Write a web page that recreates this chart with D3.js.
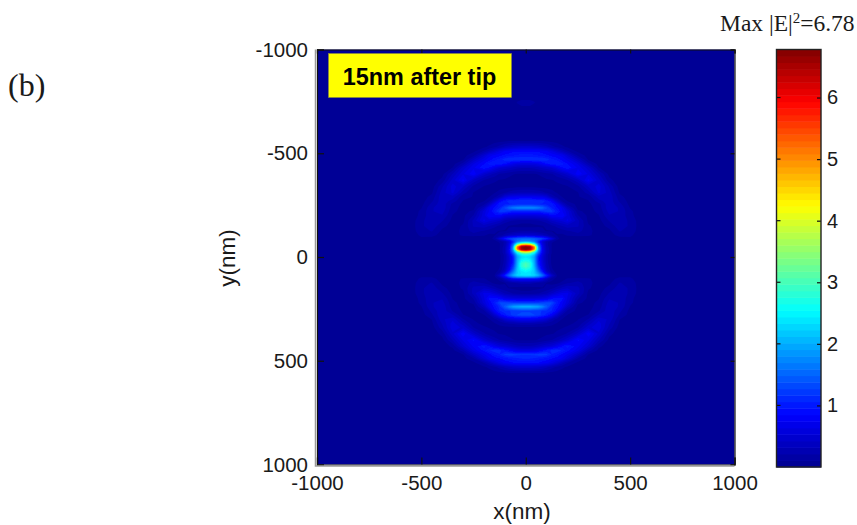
<!DOCTYPE html>
<html>
<head>
<meta charset="utf-8">
<script src="https://cdn.jsdelivr.net/npm/d3@7"></script>
<style>
  html, body { margin: 0; background: #fff; }
  svg { display: block; }
  text { font-family: "Liberation Sans", Arial, sans-serif; fill: #1a1a1a; }
  .serif { font-family: "Liberation Serif", "Times New Roman", serif; }
</style>
</head>
<body>
<script>
var xTicks = [ -1000, -500, 0, 500, 1000 ];
var yTicks = [ -1000, -500, 0, 500, 1000 ];
var barTicks = [ 1, 2, 3, 4, 5, 6 ];
var maxValue = 6.78;

// the map is mirrored about x=0, so only the x>=0 columns are kept
var xColumns = [ 0, 20, 40, 60, 80, 100, 125, 150, 175, 200, 250, 300, 350, 400, 450, 500, 550, 650, 1000 ];

var yRows = [
  -1000, -915, -830, -745, -660, -600, -560, -530, -510, -490, -470, -450, -430, -400, -370, -340,
  -310, -290, -270, -255, -237, -220, -200, -175, -150, -125, -105, -95, -88, -78, -72, -65, -58,
  -50, -43, -36, -28, -20, -10, 0, 15, 30, 45, 60, 70, 80, 88, 96, 105, 125, 150, 175, 200, 220,
  240, 260, 280, 300, 320, 340, 370, 400, 430, 450, 470, 490, 510, 530, 560, 600, 660, 745, 830, 915, 1000
];

// |E|^2, one line per entry of yRows
var fieldRows = [
  [ .01, .01, .01, .01, .01, .01, .01, .01, .01, .01, .01, .01, .01, .01, .01, .01, .01, .01, .01 ],
  [ .01, .01, .01, .01, .01, .02, .03, .04, .06, .08, .08, .03, .01, .01, .01, .01, .01, .01, .01 ],
  [ .02, .02, .02, .02, .02, .02, .02, .02, .02, .02, .02, .02, .02, .02, .01, .01, .01, .01, .01 ],
  [ .12, .12, .11, .09, .05, .03, .02, .02, .02, .02, .02, .03, .08, .03, .02, .01, .01, .01, .01 ],
  [ .05, .05, .05, .04, .04, .03, .03, .03, .03, .03, .03, .03, .03, .03, .02, .02, .01, .01, .01 ],
  [ .05, .05, .05, .05, .04, .04, .04, .04, .03, .03, .03, .04, .05, .04, .03, .02, .02, .01, .01 ],
  [ .10, .10, .10, .09, .09, .08, .07, .06, .05, .05, .04, .06, .09, .05, .03, .02, .02, .01, .01 ],
  [ .48, .48, .47, .45, .40, .35, .26, .19, .13, .09, .05, .05, .10, .06, .03, .02, .02, .01, .01 ],
  [ .85, .85, .84, .83, .79, .76, .64, .50, .36, .23, .08, .04, .06, .04, .03, .02, .02, .01, .01 ],
  [ 1.00, 1.00, .98, .95, .92, .88, .82, .76, .70, .50, .18, .06, .04, .03, .03, .02, .02, .01, .01 ],
  [ 1.15, 1.15, 1.15, 1.16, 1.17, 1.12, 1.00, .92, .80, .70, .40, .09, .04, .03, .03, .02, .02, .01, .01 ],
  [ .62, .62, .65, .70, .80, .92, 1.03, 1.06, 1.00, .85, .62, .25, .06, .04, .03, .02, .02, .01, .01 ],
  [ .33, .33, .35, .39, .45, .48, .54, .68, .85, .95, .72, .47, .11, .05, .03, .03, .02, .01, .01 ],
  [ .10, .10, .10, .11, .13, .17, .20, .28, .37, .48, .82, .62, .33, .07, .04, .03, .02, .01, .01 ],
  [ .07, .07, .07, .07, .08, .09, .10, .12, .14, .20, .40, .78, .47, .14, .04, .03, .02, .01, .01 ],
  [ .07, .07, .07, .06, .06, .06, .07, .08, .09, .10, .18, .43, .58, .30, .05, .03, .02, .01, .01 ],
  [ .33, .33, .32, .30, .25, .20, .14, .10, .08, .07, .10, .26, .55, .37, .09, .04, .02, .01, .01 ],
  [ .72, .72, .70, .68, .66, .55, .30, .17, .10, .08, .10, .14, .38, .40, .14, .05, .02, .01, .01 ],
  [ 1.15, 1.15, 1.13, 1.10, 1.10, 1.02, .80, .45, .20, .10, .08, .10, .27, .39, .19, .06, .02, .01, .01 ],
  [ 1.10, 1.10, 1.08, 1.06, 1.05, 1.03, 1.00, .75, .40, .18, .07, .08, .18, .39, .24, .07, .03, .01, .01 ],
  [ 1.80, 1.80, 1.76, 1.68, 1.52, 1.30, 1.05, .88, .72, .38, .07, .07, .15, .40, .30, .10, .04, .01, .01 ],
  [ 1.05, 1.05, 1.05, 1.05, 1.15, 1.20, 1.20, 1.00, .75, .58, .13, .07, .13, .36, .31, .13, .04, .01, .01 ],
  [ .58, .58, .58, .60, .62, .68, .85, .82, .85, .60, .22, .08, .10, .31, .30, .14, .04, .01, .01 ],
  [ .15, .15, .17, .20, .23, .28, .42, .50, .55, .66, .35, .08, .07, .22, .30, .18, .05, .01, .01 ],
  [ .07, .07, .08, .09, .10, .13, .18, .25, .32, .38, .33, .12, .06, .14, .28, .19, .05, .01, .01 ],
  [ .20, .20, .18, .16, .12, .10, .10, .12, .16, .20, .25, .15, .04, .08, .22, .17, .05, .01, .01 ],
  [ .50, .50, .47, .42, .36, .28, .15, .10, .08, .12, .17, .14, .03, .05, .15, .13, .04, .01, .01 ],
  [ 1.20, 1.15, 1.10, 1.00, .90, .70, .35, .12, .06, .06, .05, .04, .03, .03, .09, .10, .03, .01, .01 ],
  [ 1.55, 1.55, 1.50, 1.40, 1.25, 1.05, .60, .15, .05, .05, .04, .03, .03, .03, .06, .08, .03, .01, .01 ],
  [ 1.70, 1.70, 1.55, 1.20, .70, .40, .20, .07, .04, .04, .03, .03, .02, .02, .04, .05, .02, .01, .01 ],
  [ 2.20, 2.10, 1.80, 1.10, .55, .25, .12, .06, .04, .03, .03, .02, .02, .02, .03, .04, .02, .01, .01 ],
  [ 3.40, 3.20, 2.50, 1.40, .60, .25, .10, .05, .03, .03, .02, .02, .02, .02, .02, .03, .02, .01, .01 ],
  [ 5.00, 4.80, 3.60, 1.60, .65, .25, .10, .05, .03, .03, .02, .02, .02, .02, .02, .02, .02, .01, .01 ],
  [ 6.72, 6.50, 5.00, 1.80, .70, .28, .10, .05, .03, .02, .02, .02, .02, .02, .02, .02, .01, .01, .01 ],
  [ 6.78, 6.65, 5.30, 1.90, .72, .30, .10, .05, .03, .02, .02, .02, .02, .02, .02, .02, .01, .01, .01 ],
  [ 6.70, 6.40, 4.90, 1.90, .75, .30, .10, .05, .03, .02, .02, .02, .02, .02, .02, .02, .01, .01, .01 ],
  [ 4.80, 4.50, 3.30, 1.70, .75, .30, .10, .05, .03, .02, .02, .02, .02, .02, .02, .02, .01, .01, .01 ],
  [ 3.40, 3.20, 2.60, 1.50, .70, .30, .10, .05, .03, .02, .02, .02, .02, .02, .02, .02, .01, .01, .01 ],
  [ 2.60, 2.50, 2.10, 1.20, .60, .25, .08, .05, .03, .02, .02, .02, .02, .02, .02, .02, .01, .01, .01 ],
  [ 2.40, 2.30, 1.95, 1.05, .55, .25, .08, .04, .03, .02, .02, .02, .02, .02, .02, .02, .01, .01, .01 ],
  [ 2.60, 2.50, 2.00, 1.00, .55, .25, .08, .05, .03, .02, .02, .02, .02, .02, .02, .02, .01, .01, .01 ],
  [ 3.00, 2.80, 2.05, 1.05, .60, .27, .08, .05, .03, .02, .02, .02, .02, .02, .02, .02, .01, .01, .01 ],
  [ 3.05, 2.80, 2.10, 1.20, .65, .30, .10, .05, .03, .02, .02, .02, .02, .02, .02, .02, .01, .01, .01 ],
  [ 2.70, 2.55, 2.20, 1.40, .80, .35, .12, .05, .03, .03, .02, .02, .02, .02, .03, .03, .02, .01, .01 ],
  [ 2.50, 2.40, 2.20, 1.60, 1.00, .45, .15, .06, .04, .03, .03, .02, .02, .02, .04, .05, .02, .01, .01 ],
  [ 2.40, 2.35, 2.20, 1.80, 1.30, .70, .25, .07, .04, .04, .03, .03, .02, .03, .06, .08, .03, .01, .01 ],
  [ 2.40, 2.35, 2.30, 2.00, 1.55, 1.05, .45, .10, .05, .05, .04, .03, .03, .03, .08, .09, .03, .01, .01 ],
  [ 1.90, 1.85, 1.80, 1.60, 1.25, .80, .30, .08, .05, .06, .05, .04, .03, .03, .10, .10, .03, .01, .01 ],
  [ .90, .90, .85, .80, .65, .40, .15, .06, .06, .12, .15, .13, .03, .05, .15, .13, .04, .01, .01 ],
  [ .25, .25, .22, .20, .15, .10, .07, .08, .14, .20, .25, .15, .04, .08, .22, .17, .05, .01, .01 ],
  [ .06, .06, .07, .08, .10, .13, .18, .27, .35, .42, .35, .12, .06, .14, .28, .19, .05, .01, .01 ],
  [ .15, .15, .17, .20, .25, .30, .42, .55, .66, .66, .36, .08, .07, .22, .31, .18, .05, .01, .01 ],
  [ .60, .60, .60, .62, .65, .70, .88, .90, .90, .62, .22, .08, .10, .31, .31, .14, .04, .01, .01 ],
  [ 1.20, 1.20, 1.20, 1.22, 1.25, 1.30, 1.28, 1.02, .76, .58, .13, .07, .13, .36, .31, .13, .04, .01, .01 ],
  [ 2.05, 2.05, 2.00, 1.92, 1.72, 1.45, 1.10, .90, .72, .38, .07, .07, .15, .40, .30, .10, .04, .01, .01 ],
  [ 1.25, 1.25, 1.22, 1.20, 1.15, 1.12, 1.05, .80, .42, .18, .07, .08, .20, .40, .24, .07, .03, .01, .01 ],
  [ 1.32, 1.32, 1.28, 1.22, 1.12, 1.00, .78, .45, .20, .10, .08, .11, .33, .42, .19, .06, .02, .01, .01 ],
  [ .75, .75, .72, .65, .60, .50, .30, .17, .10, .08, .10, .22, .50, .40, .11, .04, .02, .01, .01 ],
  [ .28, .28, .26, .23, .22, .18, .13, .10, .08, .08, .13, .36, .58, .33, .08, .03, .02, .01, .01 ],
  [ .08, .08, .08, .08, .08, .08, .08, .09, .10, .12, .21, .50, .60, .28, .05, .03, .02, .01, .01 ],
  [ .07, .07, .07, .07, .08, .09, .10, .12, .16, .23, .46, .82, .50, .14, .04, .03, .02, .01, .01 ],
  [ .10, .10, .10, .11, .13, .17, .21, .29, .39, .51, .88, .66, .33, .07, .04, .03, .02, .01, .01 ],
  [ .33, .33, .35, .40, .46, .52, .58, .71, .88, 1.00, .77, .50, .13, .05, .03, .03, .02, .01, .01 ],
  [ .64, .64, .68, .75, .86, .97, 1.10, 1.12, 1.05, .90, .66, .27, .07, .04, .03, .02, .02, .01, .01 ],
  [ 1.18, 1.18, 1.19, 1.21, 1.23, 1.20, 1.05, .97, .82, .72, .42, .10, .04, .03, .03, .02, .02, .01, .01 ],
  [ 1.05, 1.05, 1.03, 1.00, .96, .92, .85, .79, .72, .53, .19, .06, .04, .03, .03, .02, .02, .01, .01 ],
  [ .88, .88, .87, .86, .81, .77, .66, .52, .36, .22, .08, .05, .06, .04, .03, .02, .02, .01, .01 ],
  [ .48, .48, .47, .45, .40, .35, .26, .19, .13, .09, .05, .05, .10, .06, .03, .02, .02, .01, .01 ],
  [ .10, .10, .10, .09, .09, .08, .07, .06, .05, .05, .04, .06, .09, .05, .03, .02, .02, .01, .01 ],
  [ .05, .05, .05, .05, .04, .04, .04, .04, .03, .03, .03, .04, .05, .04, .03, .02, .02, .01, .01 ],
  [ .05, .05, .05, .04, .04, .03, .03, .03, .03, .03, .03, .03, .03, .03, .02, .02, .01, .01, .01 ],
  [ .10, .10, .09, .07, .04, .03, .02, .02, .02, .02, .02, .03, .07, .03, .02, .01, .01, .01, .01 ],
  [ .02, .02, .02, .02, .02, .02, .02, .02, .02, .02, .02, .02, .02, .02, .01, .01, .01, .01, .01 ],
  [ .01, .01, .01, .01, .01, .02, .02, .03, .05, .07, .07, .03, .01, .01, .01, .01, .01, .01, .01 ],
  [ .01, .01, .01, .01, .01, .01, .01, .01, .01, .01, .01, .01, .01, .01, .01, .01, .01, .01, .01 ]
];

// MATLAB jet, the colormap stops
var jetStops = [ 0, .125, .375, .625, .875, 1 ];
var jetColors = [ "#00008f", "#0000ff", "#00ffff", "#ffff00", "#ff0000", "#800000" ];
var levelCount = 64;

var width = 857, height = 525;
var plot = { left: 317, right: 734.5, top: 49.5, bottom: 464.5 };
var bar = { left: 776.5, right: 821, top: 49.5, bottom: 467 };

var x = d3.scaleLinear().domain( [ -1000, 1000 ] ).range( [ plot.left, plot.right ] );
var y = d3.scaleLinear().domain( [ -1000, 1000 ] ).range( [ plot.top, plot.bottom ] );
var jet = d3.scaleLinear().domain( jetStops ).range( jetColors );
var barY = d3.scaleLinear().domain( [ 0, maxValue ] ).range( [ bar.bottom, bar.top ] );
var levels = d3.range( levelCount ).map( function( i ) { return i / levelCount * maxValue; } );

var svg = d3.select( "body" ).append( "svg" ).attr( "width", width ).attr( "height", height );

function drawField() {
  var xNm = xColumns.slice( 1 ).reverse().map( function( d ) { return -d; } ).concat( xColumns );
  var flat = [];
  fieldRows.forEach( function( row ) {
    flat = flat.concat( row.slice( 1 ).reverse(), row );
  } );
  // grid index to nm, the grid is not evenly spaced
  var colScale = d3.scaleLinear().domain( d3.range( xNm.length ) ).range( xNm ).clamp( true );
  var rowScale = d3.scaleLinear().domain( d3.range( yRows.length ) ).range( yRows ).clamp( true );
  var project = d3.geoTransform( {
    point: function( px, py ) {
      this.stream.point( x( colScale( px - 0.5 ) ), y( rowScale( py - 0.5 ) ) );
    }
  } );
  var path = d3.geoPath( project );
  var contours = d3.contours().size( [ xNm.length, yRows.length ] ).thresholds( levels )( flat );

  var defs = svg.append( "defs" );
  defs.append( "clipPath" ).attr( "id", "plotClip" ).append( "rect" )
    .attr( "x", plot.left ).attr( "y", plot.top )
    .attr( "width", plot.right - plot.left ).attr( "height", plot.bottom - plot.top );
  defs.append( "filter" ).attr( "id", "soft" )
    .append( "feGaussianBlur" ).attr( "stdDeviation", 0.6 );

  var clip = svg.append( "g" ).attr( "clip-path", "url(#plotClip)" );
  clip.append( "rect" )
    .attr( "x", plot.left ).attr( "y", plot.top )
    .attr( "width", plot.right - plot.left ).attr( "height", plot.bottom - plot.top )
    .attr( "fill", jet( 0 ) );
  clip.append( "g" ).attr( "filter", "url(#soft)" )
    .selectAll( "path" ).data( contours ).enter().append( "path" )
    .attr( "d", path )
    .attr( "fill", function( d, i ) { return jet( ( i + 0.5 ) / levelCount ); } );
}

function drawAxes() {
  var bottom = d3.axisBottom( x ).tickValues( xTicks ).tickSize( -7 ).tickPadding( 11 ).tickFormat( String );
  var left = d3.axisLeft( y ).tickValues( yTicks ).tickSize( -7 ).tickPadding( 9 ).tickFormat( String );
  var top = d3.axisTop( x ).tickValues( xTicks ).tickSize( -4 ).tickFormat( "" );
  var right = d3.axisRight( y ).tickValues( yTicks ).tickSize( -4 ).tickFormat( "" );
  var axes = [
    svg.append( "g" ).attr( "transform", "translate(0," + plot.bottom + ")" ).call( bottom ),
    svg.append( "g" ).attr( "transform", "translate(" + plot.left + ",0)" ).call( left ),
    svg.append( "g" ).attr( "transform", "translate(0," + plot.top + ")" ).call( top ),
    svg.append( "g" ).attr( "transform", "translate(" + plot.right + ",0)" ).call( right )
  ];
  axes.forEach( function( axis ) {
    axis.select( ".domain" ).attr( "stroke", "#111" ).attr( "stroke-width", 1.2 );
    axis.selectAll( ".tick line" ).attr( "stroke", "#111" ).attr( "stroke-width", 1.2 );
    axis.selectAll( "text" ).attr( "font-size", 20.5 ).attr( "font-family", null ).attr( "fill", "#1a1a1a" );
  } );
  // soft grey edge the picture has along the left and bottom
  svg.append( "path" )
    .attr( "d", "M" + ( plot.left - 1.5 ) + "," + plot.top + "V" + ( plot.bottom + 1.5 ) + "H" + plot.right )
    .attr( "fill", "none" ).attr( "stroke", "#9a9a9a" ).attr( "stroke-width", 1.5 );

  svg.append( "text" ).attr( "x", 522 ).attr( "y", 519 )
    .attr( "text-anchor", "middle" ).attr( "font-size", 22.5 ).text( "x(nm)" );
  svg.append( "text" ).attr( "transform", "translate(235,258) rotate(-90)" )
    .attr( "text-anchor", "middle" ).attr( "font-size", 22.5 ).text( "y(nm)" );
}

function drawColorbar() {
  var cells = d3.range( levelCount );
  svg.append( "g" ).selectAll( "rect" ).data( cells ).enter().append( "rect" )
    .attr( "x", bar.left )
    .attr( "width", bar.right - bar.left )
    .attr( "y", function( i ) { return barY( ( i + 1 ) / levelCount * maxValue ); } )
    .attr( "height", function( i ) {
      return barY( i / levelCount * maxValue ) - barY( ( i + 1 ) / levelCount * maxValue ) + 0.5;
    } )
    .attr( "fill", function( i ) { return jet( ( i + 0.5 ) / levelCount ); } );

  var axis = svg.append( "g" ).attr( "transform", "translate(" + bar.right + ",0)" )
    .call( d3.axisRight( barY ).tickValues( barTicks ).tickSize( -4 ).tickPadding( 6 ).tickFormat( String ) );
  axis.select( ".domain" ).remove();
  axis.selectAll( ".tick line" ).attr( "stroke", "#111" ).attr( "stroke-width", 1.2 );
  axis.selectAll( "text" ).attr( "font-size", 20 ).attr( "font-family", null ).attr( "fill", "#1a1a1a" );

  svg.append( "g" ).selectAll( "line" ).data( barTicks ).enter().append( "line" )
    .attr( "x1", bar.left ).attr( "x2", bar.left + 4 )
    .attr( "y1", barY ).attr( "y2", barY )
    .attr( "stroke", "#111" ).attr( "stroke-width", 1.2 );

  svg.append( "rect" )
    .attr( "x", bar.left ).attr( "y", bar.top )
    .attr( "width", bar.right - bar.left ).attr( "height", bar.bottom - bar.top )
    .attr( "fill", "none" ).attr( "stroke", "#222" ).attr( "stroke-width", 1.4 );
}

function drawLabels() {
  svg.append( "rect" ).attr( "x", 328.5 ).attr( "y", 53.5 ).attr( "width", 183 ).attr( "height", 44 )
    .attr( "fill", "#ffff00" ).attr( "stroke", "#8a8a40" ).attr( "stroke-width", 0.6 );
  svg.append( "text" ).attr( "x", 419.5 ).attr( "y", 85 ).attr( "text-anchor", "middle" )
    .attr( "font-size", 23.4 ).attr( "font-weight", "bold" ).style( "fill", "#000" ).text( "15nm after tip" );

  svg.append( "text" ).attr( "class", "serif" ).attr( "x", 8 ).attr( "y", 96 )
    .attr( "font-size", 32 ).text( "(b)" );

  var title = svg.append( "text" ).attr( "class", "serif" ).attr( "x", 720 ).attr( "y", 31 ).attr( "font-size", 23.5 );
  title.append( "tspan" ).text( "Max |E|" );
  title.append( "tspan" ).attr( "dy", -8 ).attr( "font-size", 15 ).text( "2" );
  title.append( "tspan" ).attr( "dy", 8 ).text( "=6.78" );
}

drawField();
drawAxes();
drawColorbar();
drawLabels();
</script>
</body>
</html>
